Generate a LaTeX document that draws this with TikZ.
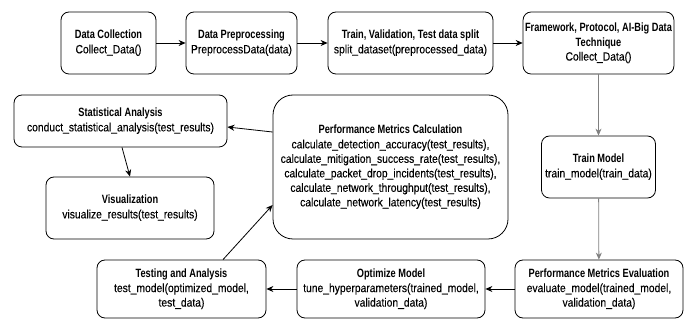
\documentclass[tikz,border=0pt]{standalone}
\usepackage{fontspec}
\setmainfont{Liberation Sans}[FakeStretch=0.86, FakeBold=0.15]
\newfontfamily\hdfont{Liberation Sans}[FakeStretch=0.77]
\newcommand{\hd}[1]{{\hdfont\bfseries #1}}
\usetikzlibrary{arrows.meta}

\begin{document}
\begin{tikzpicture}[x=1pt, y=-1pt]

\tikzstyle{box}=[rectangle, draw, rounded corners=8pt, align=center, inner sep=2pt, line width=0.8pt, font=\fontsize{12}{14.5}\selectfont]
\tikzstyle{bigbox}=[box, rounded corners=20pt]
\tikzstyle{arrow}=[-{Stealth[length=7pt,width=6pt]}, line width=0.8pt]
\tikzstyle{greyarrow}=[arrow, draw=gray]

\useasboundingbox (0,0) rectangle (691,320);

% top row
\node (DC) [box, minimum width=95pt, minimum height=62pt] at (108.5,43) {\hd{Data Collection}\\ Collect\_Data()};
\node (DP) [box, minimum width=111pt, minimum height=62pt] at (241.5,43) {\hd{Data Preprocessing}\\ PreprocessData(data)};
\node (SP) [box, minimum width=165pt, minimum height=62pt] at (410.5,43) {\hd{Train, Validation, Test data split}\\ split\_dataset(preprocessed\_data)};
\node (FW) [box, minimum width=149pt, minimum height=62pt] at (598.5,43) {\hd{Framework, Protocol, AI-Big Data}\\ \hd{Technique}\\ Collect\_Data()};

% right column and bottom row
\node (TM) [box, minimum width=114pt, minimum height=62pt] at (598.5,167) {\hd{Train Model}\\ train\_model(train\_data)};
\node (PE) [box, minimum width=168pt, minimum height=58pt] at (599,289) {\hd{Performance Metrics Evaluation}\\ evaluate\_model(trained\_model,\\ validation\_data)};
\node (OM) [box, minimum width=188pt, minimum height=58pt] at (391,289) {\hd{Optimize Model}\\ tune\_hyperparameters(trained\_model,\\ validation\_data)};
\node (TA) [box, minimum width=169pt, minimum height=58pt] at (181.5,289) {\hd{Testing and Analysis}\\ test\_model(optimized\_model,\\ test\_data)};

% metrics and results
\node (PC) [bigbox, minimum width=235pt, minimum height=144pt] at (390.5,167) {\hd{Performance Metrics Calculation}\\
  calculate\_detection\_accuracy(test\_results),\\
  calculate\_mitigation\_success\_rate(test\_results),\\
  calculate\_packet\_drop\_incidents(test\_results),\\
  calculate\_network\_throughput(test\_results),\\
  calculate\_network\_latency(test\_results)};
\node (SA) [box, minimum width=213pt, minimum height=52pt] at (120.5,121) {\hd{Statistical Analysis}\\ conduct\_statistical\_analysis(test\_results)};
\node (VR) [box, minimum width=168pt, minimum height=62pt] at (130,208) {\hd{Visualization}\\ visualize\_results(test\_results)};

\draw[arrow] (DC) -- (DP);
\draw[arrow] (DP) -- (SP);
\draw[arrow] (SP) -- (FW);
\draw[greyarrow] (FW) -- (TM);
\draw[greyarrow] (TM) -- (PE);
\draw[arrow] (PE) -- (OM);
\draw[arrow] (OM) -- (TA);
\draw[arrow] ([xshift=41.5pt]TA.north) -- ([yshift=-38pt]PC.west);
\draw[arrow] ([yshift=35pt]PC.west) -- ([yshift=-6pt]SA.east);
\draw[arrow] ([xshift=1.5pt]SA.south) -- (VR.north);
\end{tikzpicture}
\end{document}
